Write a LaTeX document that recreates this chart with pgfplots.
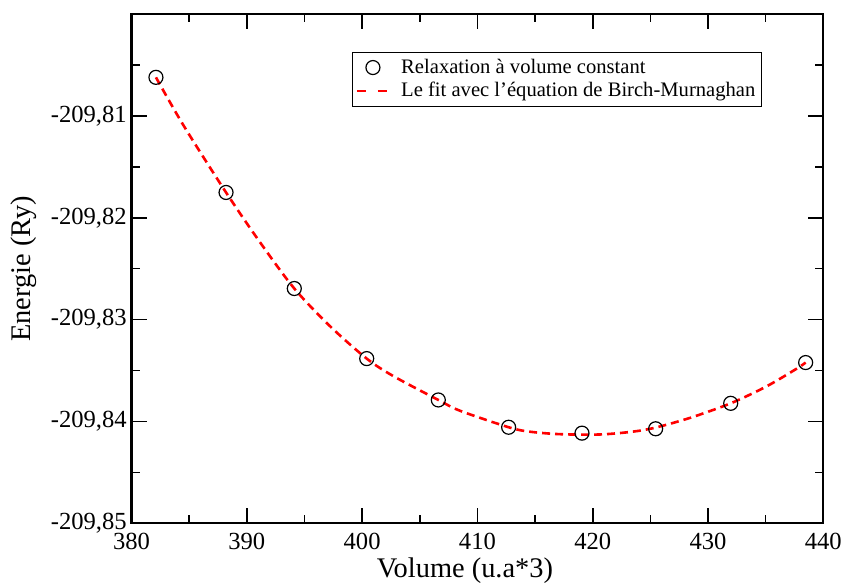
\documentclass[border=0pt]{standalone}
\usepackage{fontspec}
\setmainfont{Liberation Serif}
\usepackage{pgfplots}
\pgfplotsset{compat=1.18}
\usetikzlibrary{calc}
\pgfplotsset{
  mymark legend/.style={legend image code/.code={\draw[##1] plot coordinates {(8pt,0pt)};}},
  mydash legend/.style={legend image code/.code={\draw[##1, dash pattern=on 4.5pt off 6pt] (0pt,0pt) -- (16pt,0pt);}},
}
\begin{document}
\begin{tikzpicture}
\begin{axis}[
  scale only axis, width=345.9pt, height=254.65pt,
  xmin=380, xmax=440, ymin=-209.85, ymax=-209.80,
  xtick={380,390,400,410,420,430,440},
  minor xtick={385,395,405,415,425,435},
  ytick={-209.85,-209.84,-209.83,-209.82,-209.81},
  minor ytick={-209.845,-209.835,-209.825,-209.815,-209.805},
  tick align=inside, major tick length=7.5pt, minor tick length=4pt,
  axis line style={line width=1.15pt},
  tick style={black, line width=0.8pt},
  /pgf/number format/assume math mode=true,
  ticklabel style={font=\rmfamily\fontsize{12.3}{14}\selectfont},
  yticklabel style={inner sep=2.2pt, /pgf/number format/.cd, fixed, fixed zerofill, precision=2, use comma, 1000 sep={}},
  xticklabel style={yshift=-1.6pt, /pgf/number format/.cd, 1000 sep={}},
  label style={font=\rmfamily\fontsize{14.2}{17}\selectfont},
  xlabel={Volume (u.a*3)},
  ylabel={Energie (Ry)},
  xlabel style={at={(axis description cs:0.482,-0.0668)}, anchor=north, inner sep=0pt},
  ylabel style={at={(axis description cs:-0.1756,0.5)}, anchor=north, inner sep=0pt},
  legend style={at={(axis description cs:0.3188,0.926)}, anchor=north west, draw=black, line width=0.6pt,
    font=\rmfamily\fontsize{10.3}{12.3}\selectfont, inner xsep=1.5pt, inner ysep=1.8pt, column sep=4pt, row sep=0pt,
    cells={anchor=west}, nodes={inner sep=1.5pt}},
  legend cell align=left,
]
\addplot[only marks, mark=o, mark size=3.5pt, black, mark options={line width=0.6pt}, mymark legend]
  coordinates {
  (382.12,-209.80622) (388.20,-209.81752) (394.12,-209.82695) (400.40,-209.83383)
  (406.61,-209.83789) (412.71,-209.84057) (419.07,-209.84115) (425.46,-209.84072)
  (431.97,-209.83822) (438.47,-209.83422)
  };
\addlegendentry{Relaxation à volume constant}
\addplot[red, line width=1.3pt, dash pattern=on 4pt off 2.5pt, smooth, tension=0.5, mydash legend]
  coordinates {
  (382.12,-209.80622) (384.49,-209.81090) (388.20,-209.81752) (391.14,-209.82240)
  (394.12,-209.82695) (397.22,-209.83065) (400.40,-209.83383) (402.71,-209.83555)
  (406.61,-209.83789) (408.49,-209.83895) (412.71,-209.84057) (414.50,-209.84100)
  (417.16,-209.84125) (420.63,-209.84128) (423.49,-209.84100) (425.46,-209.84060)
  (428.44,-209.83965) (431.97,-209.83822) (435.09,-209.83655) (437.69,-209.83482)
  (438.47,-209.83422)
  };
\addlegendentry{Le fit avec l'équation de Birch-Murnaghan}
\end{axis}
\pgfresetboundingbox
\path ($(current axis.south west)+(-65.75pt,-29.85pt)$) rectangle ($(current axis.north east)+(10.85pt,7pt)$);
\end{tikzpicture}
\end{document}
